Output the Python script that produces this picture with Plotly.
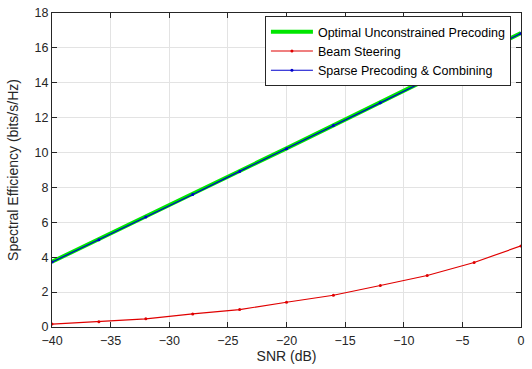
import plotly.graph_objects as go

snr_db = [-40, -36, -32, -28, -24, -20, -16, -12, -8, -4, 0]
optimal = [3.74, 5.03, 6.33, 7.63, 8.93, 10.24, 11.56, 12.87, 14.19, 15.51, 16.85]
beam_steering = [0.17, 0.3, 0.47, 0.75, 1.0, 1.42, 1.82, 2.38, 2.95, 3.7, 4.65]
sparse = [3.72, 5.0, 6.3, 7.6, 8.92, 10.22, 11.55, 12.85, 14.17, 15.5, 16.83]

x_ticks = [-40, -35, -30, -25, -20, -15, -10, -5, 0]
y_ticks = [0, 2, 4, 6, 8, 10, 12, 14, 16, 18]

FONT = "Liberation Sans, Arial, sans-serif"
INK = "#262626"

fig = go.Figure()
fig.add_trace(go.Scatter(x=snr_db, y=optimal, mode="lines",
                         name="Optimal Unconstrained Precoding",
                         line=dict(color="#00e600", width=4)))
fig.add_trace(go.Scatter(x=snr_db, y=beam_steering, mode="lines+markers",
                         name="Beam Steering",
                         line=dict(color="#e00000", width=1.2),
                         marker=dict(size=3, color="#e00000")))
fig.add_trace(go.Scatter(x=snr_db, y=sparse, mode="lines+markers",
                         name="Sparse Precoding & Combining",
                         line=dict(color="#0000cc", width=1.2),
                         marker=dict(size=3, color="#0000cc")))

axis_common = dict(showline=True, linecolor=INK, linewidth=1, mirror="ticks",
                   ticks="inside", ticklen=5, tickcolor=INK,
                   showgrid=True, gridcolor="#e3e3e3", zeroline=False,
                   automargin=False, ticklabeloverflow="allow",
                   tickfont=dict(family=FONT, size=12.5, color=INK))

fig.update_xaxes(range=[-40, 0], tickvals=x_ticks, ticklabelstandoff=2,
                 title=dict(text="SNR (dB)", font=dict(family=FONT, size=14, color=INK), standoff=4),
                 **axis_common)
fig.update_yaxes(range=[0, 18], tickvals=y_ticks,
                 title=dict(text="Spectral Efficiency (bits/s/Hz)", font=dict(family=FONT, size=14, color=INK), standoff=12),
                 **axis_common)

fig.update_layout(
    width=532, height=369,
    margin=dict(l=52, r=11, t=13, b=42),
    paper_bgcolor="white", plot_bgcolor="white",
    showlegend=True,
    legend=dict(x=0.454, y=0.99, xanchor="left", yanchor="top",
                bgcolor="white", bordercolor=INK, borderwidth=1,
                font=dict(family=FONT, size=12.5, color="black"),
                tracegroupgap=0, itemwidth=42),
)

fig.write_html("out.html", config={"displayModeBar": False},
               post_script="document.body.style.margin='0';document.body.style.overflow='hidden';")
